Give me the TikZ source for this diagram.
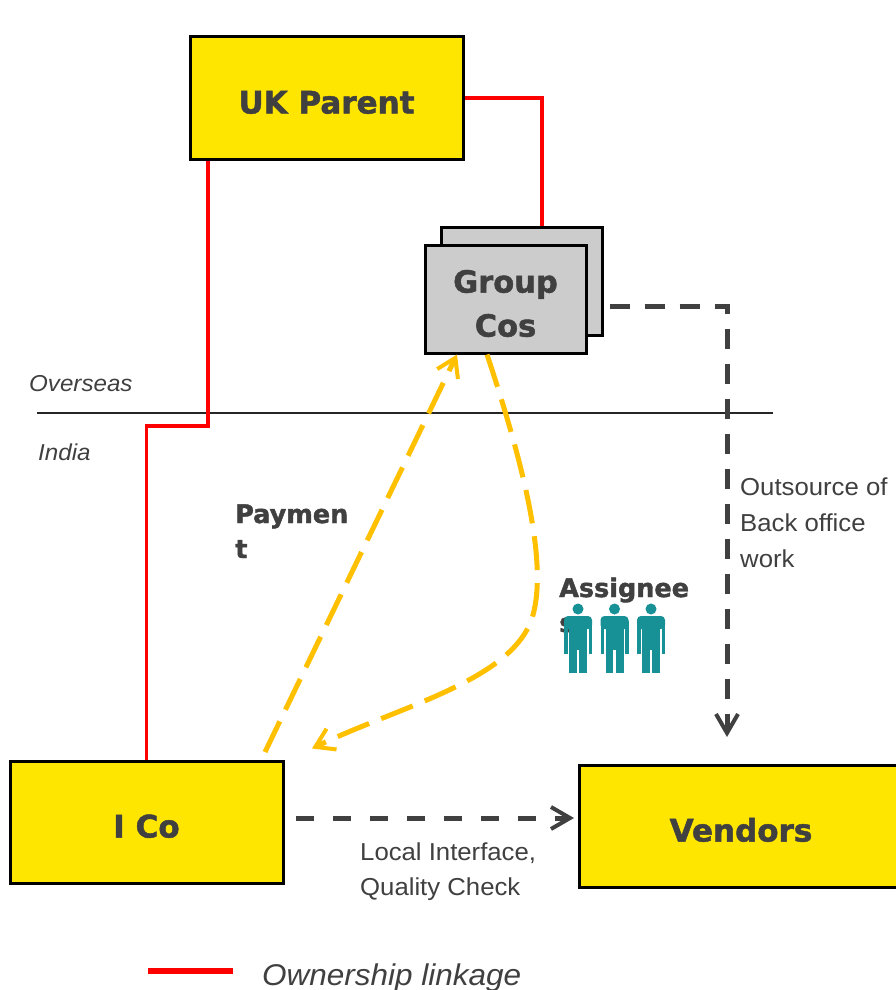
\documentclass[tikz,border=0pt]{standalone}
\usepackage{fontspec}
\setmainfont{Liberation Sans}
\newfontfamily\lsans[FakeStretch=1.05]{Liberation Sans}
\newfontfamily\dvs{DejaVu Sans}[BoldFeatures={FakeBold=1.6}]
\usetikzlibrary{arrows.meta}
\definecolor{boxyellow}{RGB}{255,230,0}
\definecolor{txtgray}{RGB}{64,64,64}
\definecolor{dashgray}{RGB}{64,64,64}
\definecolor{arrowyellow}{RGB}{255,192,0}
\definecolor{ownred}{RGB}{255,0,0}
\definecolor{groupgray}{RGB}{204,204,204}
\definecolor{peopleteal}{RGB}{23,145,150}
\tikzset{
  entity/.style={draw=black, line width=3pt, fill=boxyellow, minimum width=273pt, minimum height=122pt, inner sep=0pt, text=txtgray, font=\dvs\bfseries\fontsize{31}{36}\selectfont, text height=31pt, text depth=0pt},
  groupbox/.style={draw=black, line width=3pt, fill=groupgray, minimum width=161pt, minimum height=108pt, inner sep=0pt},
  own/.style={draw=ownred, line width=3.5pt},
  flow/.style={draw=dashgray, line width=5pt, dash pattern=on 20pt off 15pt, -{Straight Barb[length=19pt,width=22pt,line width=4pt]}},
  money/.style={draw=arrowyellow, line width=5pt, dash pattern=on 34pt off 13pt, -{Straight Barb[length=18pt,width=23pt,line width=4pt]}},
  note/.style={inner sep=0pt, anchor=base west, align=left, text=txtgray, font=\lsans\fontsize{24.5}{36}\selectfont},
  bnote/.style={note, font=\dvs\bfseries\fontsize{25.5}{35}\selectfont},
  inote/.style={note, font=\lsans\itshape\fontsize{23}{28}\selectfont},
  person/.pic={
    \fill[peopleteal] (0,0) circle[radius=5.5];
    \fill[peopleteal, rounded corners=4pt] (-14,7) rectangle (14,20);
    \fill[peopleteal] (-14,12) rectangle (-10.5,45);
    \fill[peopleteal] (10.5,12) rectangle (14,45);
    \fill[peopleteal] (-9,12) rectangle (9,41);
    \fill[peopleteal] (-9,38) rectangle (-1.2,64);
    \fill[peopleteal] (1.2,38) rectangle (9,64);
  }
}
\begin{document}
\begin{tikzpicture}[x=1pt,y=-1pt]
\clip (0,0) rectangle (896,990);
\fill[white] (0,0) rectangle (896,990);

% divider
\draw[line width=1.2pt, black!85] (37,413) -- (773,413);
\node[inote] (overseas) at (29,391) {Overseas};
\node[inote] (india) at (38,460) {India};

% boxes
\node[entity] (uk) at (326.5,98) {UK Parent};
\node[groupbox] (gback) at (522,281) {};
\node[groupbox] (gfront) at (505.5,299) {};
\node[inner sep=0pt, align=center, text=txtgray, font=\dvs\bfseries\fontsize{30.5}{44}\selectfont] (gtext) at ([yshift=-4.5pt]gfront.center) {Group\\Cos};
\node[entity] (ico) at (146.5,822) {I Co};
\node[entity, minimum width=324pt] (vend) at (741,826) {Vendors};

% ownership lines
\draw[own] (uk.east) -| ([xshift=20pt]gback.north);
\draw[own] ([xshift=-118.5pt]uk.south) -- ++(0,265.5) -| (ico.north);

% flows
\draw[flow, shorten <=5.5pt, shorten >=26.5pt] ([yshift=-25pt]gback.east) -| ([xshift=-14pt]vend.north);
\draw[flow, dash pattern=on 18pt off 19pt, shorten <=11.5pt, shorten >=3.5pt] ([yshift=4pt]ico.east) -- ([yshift=8pt]vend.west);

\draw[money] ([xshift=118.5pt,yshift=7.5pt]ico.north) -- ([xshift=-48.5pt]gfront.south);
\draw[money] ([xshift=-18.5pt]gfront.south) .. controls (522,460) and (548,560) .. (533,615) .. controls (515,680) and (400,706) .. ([xshift=165.5pt,yshift=11pt]ico.north);

% labels (base anchor = baseline of the last line)
\node[note] (outsource) at (740,567) {Outsource of\\Back office\\work};
\node[note, font=\lsans\fontsize{24.5}{35}\selectfont] (local) at (360,895) {Local Interface,\\Quality Check};
\node[bnote] (payment) at (235,558) {Paymen\\t};
\node[bnote] (assignees) at (559,632) {Assignee\\s};

% people
\pic at (578,609) {person};
\pic at (614.5,609) {person};
\pic at (651,609) {person};

% legend
\draw[own, line width=6pt] (148,971) -- (233,971);
\node[note, font=\lsans\itshape\fontsize{30}{34}\selectfont] (legend) at (262,985) {Ownership linkage};
\end{tikzpicture}
\end{document}
